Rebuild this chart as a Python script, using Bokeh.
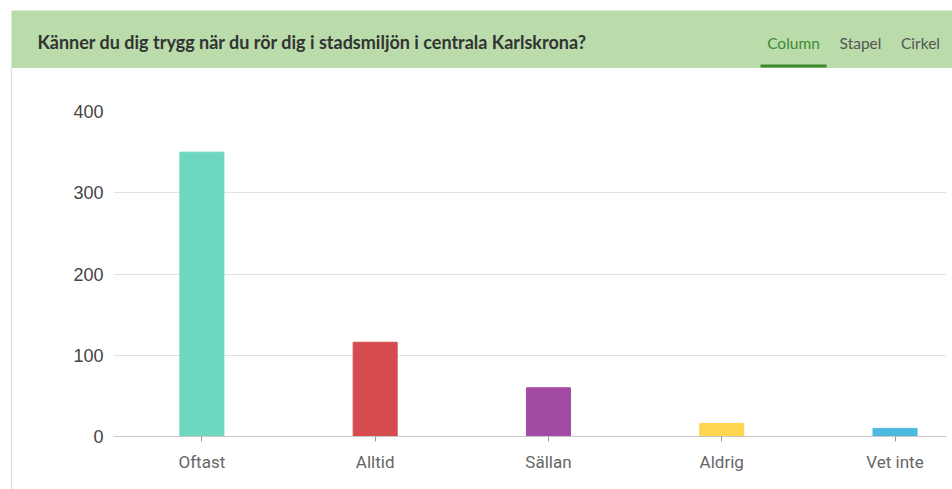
from bokeh.plotting import figure
from bokeh.layouts import column, row
from bokeh.models import Range1d, FixedTicker, ColumnDataSource, Spacer
from bokeh.core.properties import value
from bokeh.embed import file_html
from bokeh.resources import INLINE

# ---- data ----
title_text = "Känner du dig trygg när du rör dig i stadsmiljön i centrala Karlskrona?"
tabs = ["Column", "Stapel", "Cirkel"]
categories = ["Oftast", "Alltid", "Sällan", "Aldrig", "Vet inte"]
counts = [350, 116, 60, 16, 10]
y_ticks = [0, 100, 200, 300, 400]
bar_colors = ["#6dd8bf", "#d64b4d", "#a34ba4", "#fdd64d", "#4cb9e0"]

# ---- header ----
hdr = figure(width=952, height=68, x_range=Range1d(0, 952), y_range=Range1d(0, 68),
             output_backend="svg", toolbar_location=None, min_border=0)
hdr.axis.visible = False
hdr.grid.visible = False
hdr.outline_line_color = None
hdr.background_fill_color = "white"
hdr.border_fill_color = "white"
hdr.quad(left=[11], right=[952], bottom=[0], top=[58], fill_color="#b9dcaa", line_color=None)
hdr.text(x=[37], y=[27], text=[title_text], text_font=value("Lato"), text_font_style="bold",
         text_font_size="18px", text_color="#333333", text_baseline="middle", text_align="left")
tab_x = [793, 860, 920]
tab_colors = ["#3f8a35", "#555555", "#555555"]
hdr.text(x=tab_x, y=[26] * 3, text=tabs, text_font=value("Lato"), text_font_size="15.5px",
         text_color=tab_colors, text_baseline="middle", text_align="center")
hdr.quad(left=[760], right=[826], bottom=[1], top=[4], fill_color="#3b8a2f", line_color=None)

# ---- left border strip (panel edge) ----
strip = Spacer(width=12, height=421,
               styles={"background": "linear-gradient(to right, #ffffff 11px, #d9d9d9 11px, #d9d9d9 12px)"})

# ---- chart ----
xs = list(range(len(categories)))
src = ColumnDataSource(dict(x=xs, top=counts, color=bar_colors))
p = figure(width=940, height=421, x_range=Range1d(-0.51, 4.297), y_range=Range1d(0, 400),
           output_backend="svg", toolbar_location=None,
           min_border_left=101, min_border_right=6, min_border_top=43, min_border_bottom=53)
p.outline_line_color = None
p.border_fill_color = "white"
p.vbar(x="x", top="top", width=0.254, color="color", source=src)

p.xaxis.ticker = FixedTicker(ticks=xs)
p.xaxis.major_label_overrides = {i: c for i, c in zip(xs, categories)}
p.xaxis.axis_line_color = "#c8c8c8"
p.xaxis.major_tick_line_color = "#999999"
p.xaxis.major_tick_out = 5
p.xaxis.major_tick_in = 0
p.xaxis.minor_tick_line_color = None
p.xaxis.major_label_standoff = 10
p.xaxis.major_label_text_font = "Liberation Sans Narrow, Roboto, sans-serif"
p.xaxis.major_label_text_font_size = "17px"
p.xaxis.major_label_text_color = "#666666"

p.yaxis.ticker = FixedTicker(ticks=y_ticks)
p.yaxis.axis_line_color = None
p.yaxis.major_tick_line_color = None
p.yaxis.minor_tick_line_color = None
p.yaxis.major_tick_out = 0
p.yaxis.major_label_standoff = 10
p.yaxis.major_label_text_font = "Liberation Sans"
p.yaxis.major_label_text_font_size = "18px"
p.yaxis.major_label_text_color = "#444444"

p.xgrid.grid_line_color = None
p.ygrid.grid_line_color = "#e2e2e2"

layout = column(hdr, row(strip, p, spacing=0), spacing=0)
open("out.html", "w").write(file_html(layout, INLINE))
